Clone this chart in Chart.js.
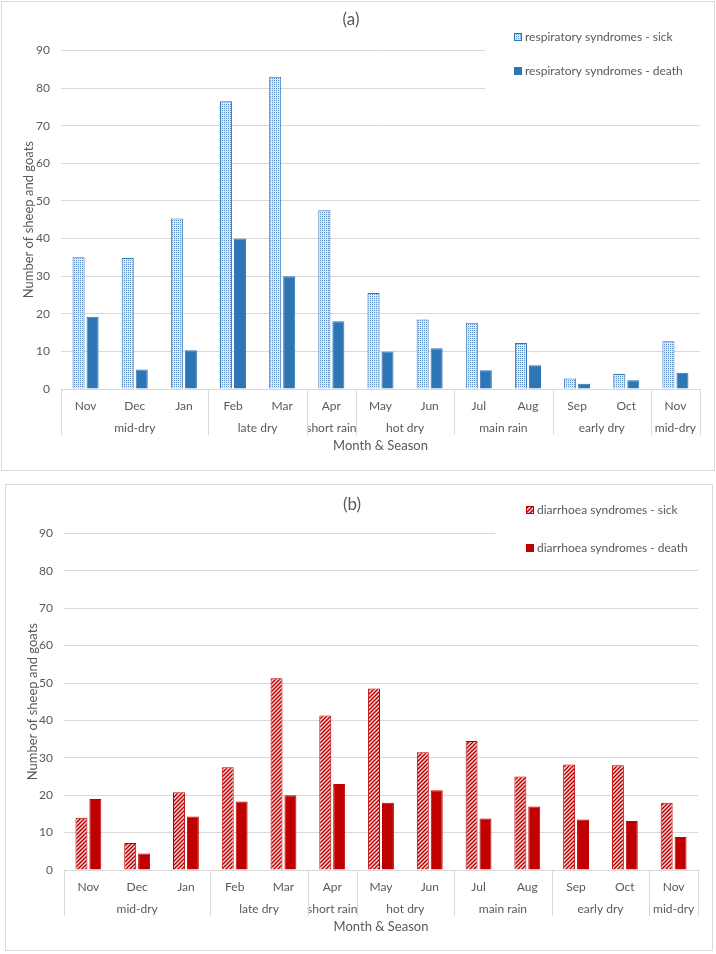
<!DOCTYPE html>
<html>
<head>
<meta charset="utf-8">
<script src="https://cdn.jsdelivr.net/npm/chart.js@4"></script>
<style>
    body { margin: 0; background: #fff; }
    .panel { position: absolute; box-sizing: border-box; border: 1px solid #d9d9d9; background: #fff; }
    #panelA { left: 1px; top: 1px; width: 714px; height: 470px; }
    #panelB { left: 5px; top: 484px; width: 708px; height: 467px; }
    canvas { display: block; }
</style>
</head>
<body>
<div class="panel" id="panelA"><canvas id="chartA" width="712" height="468"></canvas></div>
<div class="panel" id="panelB"><canvas id="chartB" width="706" height="465"></canvas></div>

<script>
const months = ['Nov', 'Dec', 'Jan', 'Feb', 'Mar', 'Apr', 'May', 'Jun', 'Jul', 'Aug', 'Sep', 'Oct', 'Nov'];
const seasons = ['mid-dry', 'late dry', 'short rain', 'hot dry', 'main rain', 'early dry', 'mid-dry'];
const seasonSpans = [3, 2, 1, 2, 2, 2, 1];

const respSick  = [35, 34.8, 45.3, 76.5, 83, 47.5, 25.5, 18.5, 17.6, 12.2, 2.8, 4, 12.7];
const respDeath = [19.2, 5.2, 10.3, 40, 30, 18, 10, 10.8, 5, 6.3, 1.4, 2.3, 4.3];

const diarSick  = [14, 7.2, 20.8, 27.5, 51.3, 41.3, 48.5, 31.5, 34.5, 25, 28.2, 28, 18];
const diarDeath = [19, 4.4, 14.3, 18.3, 20, 23, 18, 21.3, 13.8, 17, 13.5, 13.1, 8.8];

const yMax = 90;
const yStep = 10;

const TEXT = '#595959';
const GRID = '#d9d9d9';
Chart.defaults.font.family = 'Lato';

function dotPattern() {
    const c = document.createElement('canvas');
    c.width = 2; c.height = 2;
    const g = c.getContext('2d');
    g.fillStyle = '#dce8f5';
    g.fillRect(0, 0, 2, 2);
    g.fillStyle = '#5f8fc8';
    g.fillRect(0, 0, 1, 1);
    return g.createPattern(c, 'repeat');
}

function hatchPattern() {
    const c = document.createElement('canvas');
    c.width = 4; c.height = 4;
    const g = c.getContext('2d');
    g.fillStyle = '#f8dada';
    g.fillRect(0, 0, 4, 4);
    g.strokeStyle = '#c00000';
    g.lineWidth = 1.5;
    g.beginPath();
    g.moveTo(0, 4); g.lineTo(4, 0);
    g.moveTo(-1, 1); g.lineTo(1, -1);
    g.moveTo(3, 5); g.lineTo(5, 3);
    g.stroke();
    return g.createPattern(c, 'repeat');
}

// second level of the x axis: season names + group separators
const seasonAxis = {
    id: 'seasonAxis',
    afterDraw(chart) {
        const { ctx, chartArea: area, scales: { x } } = chart;
        const w = (x.right - x.left) / months.length;
        const edge = i => Math.round(x.left + i * w) + 0.5;
        ctx.save();
        ctx.strokeStyle = GRID;
        ctx.lineWidth = 1;
        ctx.fillStyle = TEXT;
        ctx.font = '12px Lato';
        ctx.textAlign = 'center';
        ctx.textBaseline = 'middle';
        ctx.beginPath();
        ctx.moveTo(edge(0), area.bottom);
        ctx.lineTo(edge(0), area.bottom + 46);
        let k = 0;
        seasons.forEach((s, i) => {
            const a = k;
            k += seasonSpans[i];
            ctx.moveTo(edge(k), area.bottom);
            ctx.lineTo(edge(k), area.bottom + 46);
            ctx.fillText(s, x.left + (a + k) * w / 2, area.bottom + 39);
        });
        ctx.stroke();
        ctx.restore();
    }
};

// legend sitting on a white box over the top right of the plot
const boxLegend = {
    id: 'boxLegend',
    afterDraw(chart, args, opts) {
        const { ctx, chartArea: area } = chart;
        ctx.save();
        ctx.fillStyle = 'rgba(255,255,255,0.88)';
        ctx.fillRect(opts.left, opts.top, area.right - opts.left, opts.height);
        ctx.font = '12px Lato';
        ctx.textAlign = 'left';
        ctx.textBaseline = 'middle';
        chart.data.datasets.forEach((ds, i) => {
            const y = opts.rows[i];
            ctx.fillStyle = ds.backgroundColor;
            ctx.fillRect(opts.iconX, y - 4, 8, 8);
            ctx.strokeStyle = ds.borderColor;
            ctx.lineWidth = 1;
            ctx.strokeRect(opts.iconX + 0.5, y - 3.5, 7, 7);
            ctx.fillStyle = TEXT;
            ctx.fillText(ds.label, opts.iconX + 11, y);
        });
        ctx.restore();
    }
};

function makeChart(id, title, datasets, lay) {
    return new Chart(document.getElementById(id), {
        type: 'bar',
        data: { labels: months, datasets: datasets },
        options: {
            responsive: false,
            animation: false,
            layout: { padding: { left: 0, right: lay.right, top: 0, bottom: 0 } },
            datasets: { bar: { categoryPercentage: 0.57, barPercentage: 0.86 } },
            plugins: {
                legend: { display: false },
                tooltip: { enabled: false },
                title: {
                    display: true,
                    text: title,
                    color: TEXT,
                    font: { size: 17, weight: 'normal' },
                    padding: lay.titlePad
                },
                boxLegend: lay.legend
            },
            scales: {
                x: {
                    grid: { display: false },
                    border: { color: GRID },
                    ticks: { color: TEXT, font: { size: 12 }, padding: 2, maxRotation: 0, autoSkip: false },
                    title: {
                        display: true,
                        text: 'Month & Season',
                        color: TEXT,
                        font: { size: 13 },
                        padding: { top: 0, bottom: lay.xTitlePad }
                    },
                    afterFit: s => { s.height = lay.xHeight; }
                },
                y: {
                    min: 0,
                    max: yMax,
                    ticks: { stepSize: yStep, color: TEXT, font: { size: 12 }, padding: 11 },
                    grid: { color: GRID, drawTicks: false },
                    border: { display: false },
                    title: {
                        display: true,
                        text: 'Number of sheep and goats',
                        color: TEXT,
                        font: { size: 13 },
                        padding: { top: 19, bottom: 0 }
                    },
                    afterFit: s => { s.width = lay.yWidth; }
                }
            }
        },
        plugins: [seasonAxis, boxLegend]
    });
}

makeChart('chartA', '(a)', [
    {
        label: 'respiratory syndromes - sick',
        data: respSick,
        backgroundColor: dotPattern(),
        borderColor: '#2e75b6',
        borderWidth: 1
    },
    {
        label: 'respiratory syndromes - death',
        data: respDeath,
        backgroundColor: '#2e75b6',
        borderColor: '#2e75b6',
        borderWidth: 1
    }
], {
    right: 14, yWidth: 59, xHeight: 81, xTitlePad: 16,
    titlePad: { top: 7, bottom: 21 },
    legend: { left: 483, top: 18, height: 75, iconX: 512, rows: [35, 69] }
});

makeChart('chartB', '(b)', [
    {
        label: 'diarrhoea syndromes - sick',
        data: diarSick,
        backgroundColor: hatchPattern(),
        borderColor: '#c00000',
        borderWidth: 1
    },
    {
        label: 'diarrhoea syndromes - death',
        data: diarDeath,
        backgroundColor: '#c00000',
        borderColor: '#c00000',
        borderWidth: 1
    }
], {
    right: 14, yWidth: 58, xHeight: 80, xTitlePad: 15,
    titlePad: { top: 9, bottom: 19 },
    legend: { left: 489, top: 8, height: 68, iconX: 520, rows: [25, 63] }
});
</script>
</body>
</html>
